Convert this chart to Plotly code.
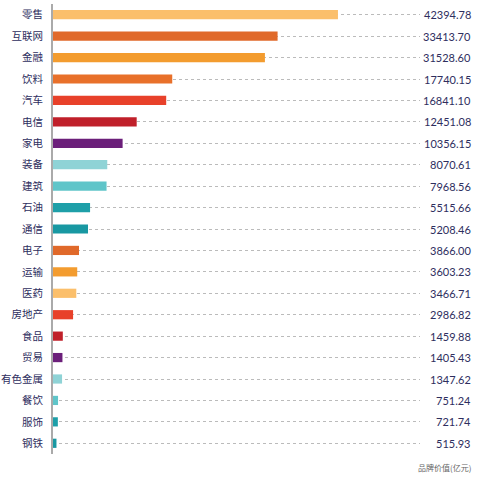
import plotly.graph_objects as go

industries = ["零售", "互联网", "金融", "饮料", "汽车", "电信", "家电", "装备", "建筑", "石油", "通信",
              "电子", "运输", "医药", "房地产", "食品", "贸易", "有色金属", "餐饮", "服饰", "钢铁"]
brand_values = [42394.78, 33413.70, 31528.60, 17740.15, 16841.10, 12451.08, 10356.15, 8070.61, 7968.56,
                5515.66, 5208.46, 3866.00, 3603.23, 3466.71, 2986.82, 1459.88, 1405.43, 1347.62,
                751.24, 721.74, 515.93]
bar_colors = ["#FBBF6B", "#E0692A", "#F39C2F", "#E8702A", "#E8412A", "#C0202A", "#6B1F7A",
              "#8FD3D6", "#5FC5C9", "#1E9FA8", "#1898A2",
              "#E0692A", "#F39C2F", "#FBBF6B", "#E8412A", "#C0202A", "#6B1F7A",
              "#8FD3D6", "#5FC5C9", "#1E9FA8", "#1898A2"]
unit_label = "品牌价值(亿元)"

text_color = "#2E2E5E"
cjk = "Noto Sans CJK SC"

fig = go.Figure()
fig.add_trace(go.Bar(
    x=brand_values,
    y=industries,
    orientation="h",
    marker=dict(color=bar_colors, line=dict(width=0)),
    width=0.43,
    hoverinfo="x+y",
))

# value labels on the right, outside the plot area
for name, v in zip(industries, brand_values):
    fig.add_annotation(
        x=1.144, xref="paper", y=name, yref="y",
        text=f"{v:.2f}", showarrow=False, xanchor="right",
        font=dict(family="Lato, Noto Sans", size=11, color=text_color),
    )

fig.add_annotation(
    x=1.144, xref="paper", y=-0.03, yref="paper",
    text=unit_label, showarrow=False, xanchor="right", yanchor="middle",
    font=dict(family=cjk, size=8, color="#666666"),
)

fig.update_layout(
    width=491,
    height=481,
    margin=dict(l=53, r=71, t=4, b=27),
    paper_bgcolor="white",
    plot_bgcolor="white",
    showlegend=False,
    xaxis=dict(
        range=[0, 54600],
        showgrid=False,
        zeroline=False,
        showticklabels=False,
        showline=False,
        automargin=False,
        fixedrange=True,
    ),
    yaxis=dict(
        autorange="reversed",
        automargin=False,
        showgrid=True,
        gridcolor="#BBBBBB",
        griddash="dot",
        gridwidth=1,
        showline=True,
        linecolor="#AAAAAA",
        linewidth=2,
        ticks="",
        ticklabelstandoff=6,
        tickfont=dict(family=cjk, size=10.5, color=text_color),
        fixedrange=True,
    ),
)

# the browser's default 8px body margin would push the figure off the window
fig.write_html("out.html", config={"displayModeBar": False},
               post_script="document.body.style.margin = '0';")
